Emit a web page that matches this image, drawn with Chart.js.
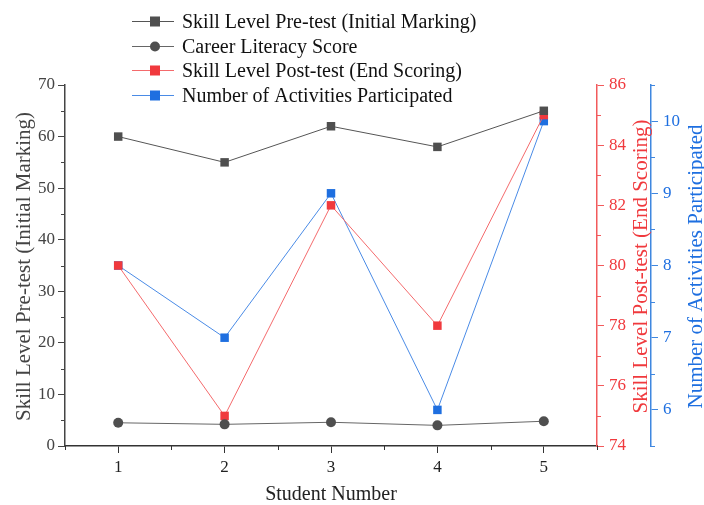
<!DOCTYPE html>
<html>
<head>
<meta charset="utf-8">
<script src="https://cdn.jsdelivr.net/npm/chart.js@4.4.1/dist/chart.umd.min.js"></script>
<style>
  html, body { margin: 0; padding: 0; background: #fff; }
  #wrap { width: 704px; height: 505px; position: relative; }
</style>
</head>
<body>
<div id="wrap"><canvas id="c" width="704" height="505"></canvas></div>
<script>
// Student scores
const students = [1, 2, 3, 4, 5];
const preTest = [60, 55, 62, 58, 65];
const careerLiteracy = [4.5, 4.2, 4.6, 4.0, 4.8];
const postTest = [80, 75, 82, 78, 85];
const activities = [8, 7, 9, 6, 10];

// Tick values
const xTicks = [1, 2, 3, 4, 5];
const leftTicks = [0, 10, 20, 30, 40, 50, 60, 70];
const redTicks = [74, 76, 78, 80, 82, 84, 86];
const blueTicks = [6, 7, 8, 9, 10];

const GRAY = '#4f4f4f';
const RED = '#f0393d';
const BLUE = '#1e6fe0';
const RED_AXIS = '#f25a5c';
const BLUE_AXIS = '#3f87e0';
const FONT = '"Liberation Serif", "Times New Roman", serif';

const pts = (vals) => students.map((s, i) => ({ x: s, y: vals[i] }));
const fixedTicks = (list) => (scale) => { scale.ticks = list.map(v => ({ value: v })); };

const seriesMeta = [
  { label: 'Skill Level Pre-test (Initial Marking)', data: preTest, axis: 'y', color: GRAY, line: '#555', style: 'rect' },
  { label: 'Career Literacy Score', data: careerLiteracy, axis: 'y', color: GRAY, line: '#666', style: 'circle' },
  { label: 'Skill Level Post-test (End Scoring)', data: postTest, axis: 'y2', color: RED, line: '#f46a6c', style: 'rect' },
  { label: 'Number of Activities Participated', data: activities, axis: 'y3', color: BLUE, line: '#4a8be6', style: 'rect' }
];

const datasets = seriesMeta.map(m => ({
  label: m.label,
  data: pts(m.data),
  yAxisID: m.axis,
  borderColor: m.line,
  borderWidth: 1,
  backgroundColor: m.color,
  pointBackgroundColor: m.color,
  pointBorderColor: m.color,
  pointBorderWidth: 0,
  pointStyle: m.style,
  pointRadius: m.style === 'circle' ? 5 : 6,
  tension: 0
}));

// Minor ticks, axis titles and legend
const decorations = {
  id: 'decorations',
  afterDraw(chart) {
    const ctx = chart.ctx;
    const s = chart.scales;
    ctx.save();
    ctx.lineWidth = 1;

    const minor = 4;
    // x minor ticks
    ctx.strokeStyle = '#333';
    [0.5, 1.5, 2.5, 3.5, 4.5, 5.5].forEach(v => {
      const px = Math.round(s.x.getPixelForValue(v)) + 0.5;
      ctx.beginPath(); ctx.moveTo(px, s.x.top); ctx.lineTo(px, s.x.top + minor); ctx.stroke();
    });
    // left minor ticks
    ctx.strokeStyle = '#444';
    [5, 15, 25, 35, 45, 55, 65].forEach(v => {
      const py = Math.round(s.y.getPixelForValue(v)) + 0.5;
      ctx.beginPath(); ctx.moveTo(s.y.right, py); ctx.lineTo(s.y.right - minor, py); ctx.stroke();
    });
    // red minor ticks
    ctx.strokeStyle = RED_AXIS;
    [75, 77, 79, 81, 83, 85].forEach(v => {
      const py = Math.round(s.y2.getPixelForValue(v)) + 0.5;
      ctx.beginPath(); ctx.moveTo(s.y2.left, py); ctx.lineTo(s.y2.left + minor, py); ctx.stroke();
    });
    // blue minor ticks
    ctx.strokeStyle = BLUE_AXIS;
    [5.5, 6.5, 7.5, 8.5, 9.5, 10.5].forEach(v => {
      const py = Math.round(s.y3.getPixelForValue(v)) + 0.5;
      ctx.beginPath(); ctx.moveTo(s.y3.left, py); ctx.lineTo(s.y3.left + minor, py); ctx.stroke();
    });

    // axis titles
    const area = chart.chartArea;
    const midY = (area.top + area.bottom) / 2 + 1;
    ctx.font = '21px ' + FONT;
    ctx.textAlign = 'center';
    ctx.textBaseline = 'middle';
    const vTitle = (text, x, color) => {
      ctx.save();
      ctx.translate(x, midY);
      ctx.rotate(-Math.PI / 2);
      ctx.fillStyle = color;
      ctx.fillText(text, 0, 0);
      ctx.restore();
    };
    vTitle('Skill Level Pre-test (Initial Marking)', 24, '#444');
    vTitle('Skill Level Post-test (End Scoring)', 641, RED);
    vTitle('Number of Activities Participated', 696, BLUE);
    ctx.font = '20px ' + FONT;
    ctx.fillStyle = '#222';
    ctx.fillText('Student Number', (area.left + area.right) / 2, 495);

    // legend
    ctx.textAlign = 'left';
    ctx.font = '20px ' + FONT;
    const rowY = [21, 45.5, 70, 94.5];
    seriesMeta.forEach((m, i) => {
      const y = Math.round(rowY[i]) + 0.5;
      ctx.strokeStyle = m.line;
      ctx.lineWidth = 1.2;
      ctx.beginPath(); ctx.moveTo(132, y); ctx.lineTo(174, y); ctx.stroke();
      ctx.fillStyle = m.color;
      if (m.style === 'circle') {
        ctx.beginPath(); ctx.arc(155, y, 5, 0, Math.PI * 2); ctx.fill();
      } else {
        ctx.fillRect(150, y - 5, 10, 10);
      }
      ctx.fillStyle = '#111';
      ctx.fillText(m.label, 182, y + 1);
    });
    ctx.restore();
  }
};

const tickFont = { family: FONT, size: 17 };

new Chart(document.getElementById('c'), {
  type: 'line',
  data: { datasets },
  plugins: [decorations],
  options: {
    responsive: false,
    animation: false,
    devicePixelRatio: 1,
    layout: { padding: { top: 85, right: 0, left: 0, bottom: 0 } },
    plugins: { legend: { display: false }, tooltip: { enabled: false } },
    scales: {
      x: {
        type: 'linear', position: 'bottom', min: 0.5, max: 5.5,
        afterBuildTicks: fixedTicks(xTicks),
        afterFit: (sc) => { sc.height = 59; },
        grid: { drawOnChartArea: false, drawTicks: true, tickLength: 7, color: '#333', tickColor: '#333' },
        border: { display: true, color: '#333', width: 1.5 },
        ticks: { font: tickFont, color: '#222', padding: 4, maxRotation: 0 }
      },
      y: {
        type: 'linear', position: 'left', min: 0, max: 70,
        afterBuildTicks: fixedTicks(leftTicks),
        afterFit: (sc) => { sc.width = 65; },
        grid: { drawOnChartArea: false, drawTicks: true, tickLength: 7, color: '#444', tickColor: '#444' },
        border: { display: true, color: '#444', width: 1.5 },
        ticks: { font: tickFont, color: '#444', padding: 3 }
      },
      y2: {
        type: 'linear', position: 'right', min: 74, max: 86,
        afterBuildTicks: fixedTicks(redTicks),
        afterFit: (sc) => { sc.width = 54; },
        grid: { drawOnChartArea: false, drawTicks: true, tickLength: 7, color: RED_AXIS, tickColor: RED_AXIS },
        border: { display: true, color: RED_AXIS, width: 1.5 },
        ticks: { font: tickFont, color: RED, padding: 5 }
      },
      y3: {
        type: 'linear', position: 'right', min: 5.5, max: 10.5,
        afterBuildTicks: fixedTicks(blueTicks),
        afterFit: (sc) => { sc.width = 53; },
        grid: { drawOnChartArea: false, drawTicks: true, tickLength: 7, color: BLUE_AXIS, tickColor: BLUE_AXIS },
        border: { display: true, color: BLUE_AXIS, width: 1.5 },
        ticks: { font: tickFont, color: BLUE, padding: 5 }
      }
    }
  }
});
</script>
</body>
</html>
